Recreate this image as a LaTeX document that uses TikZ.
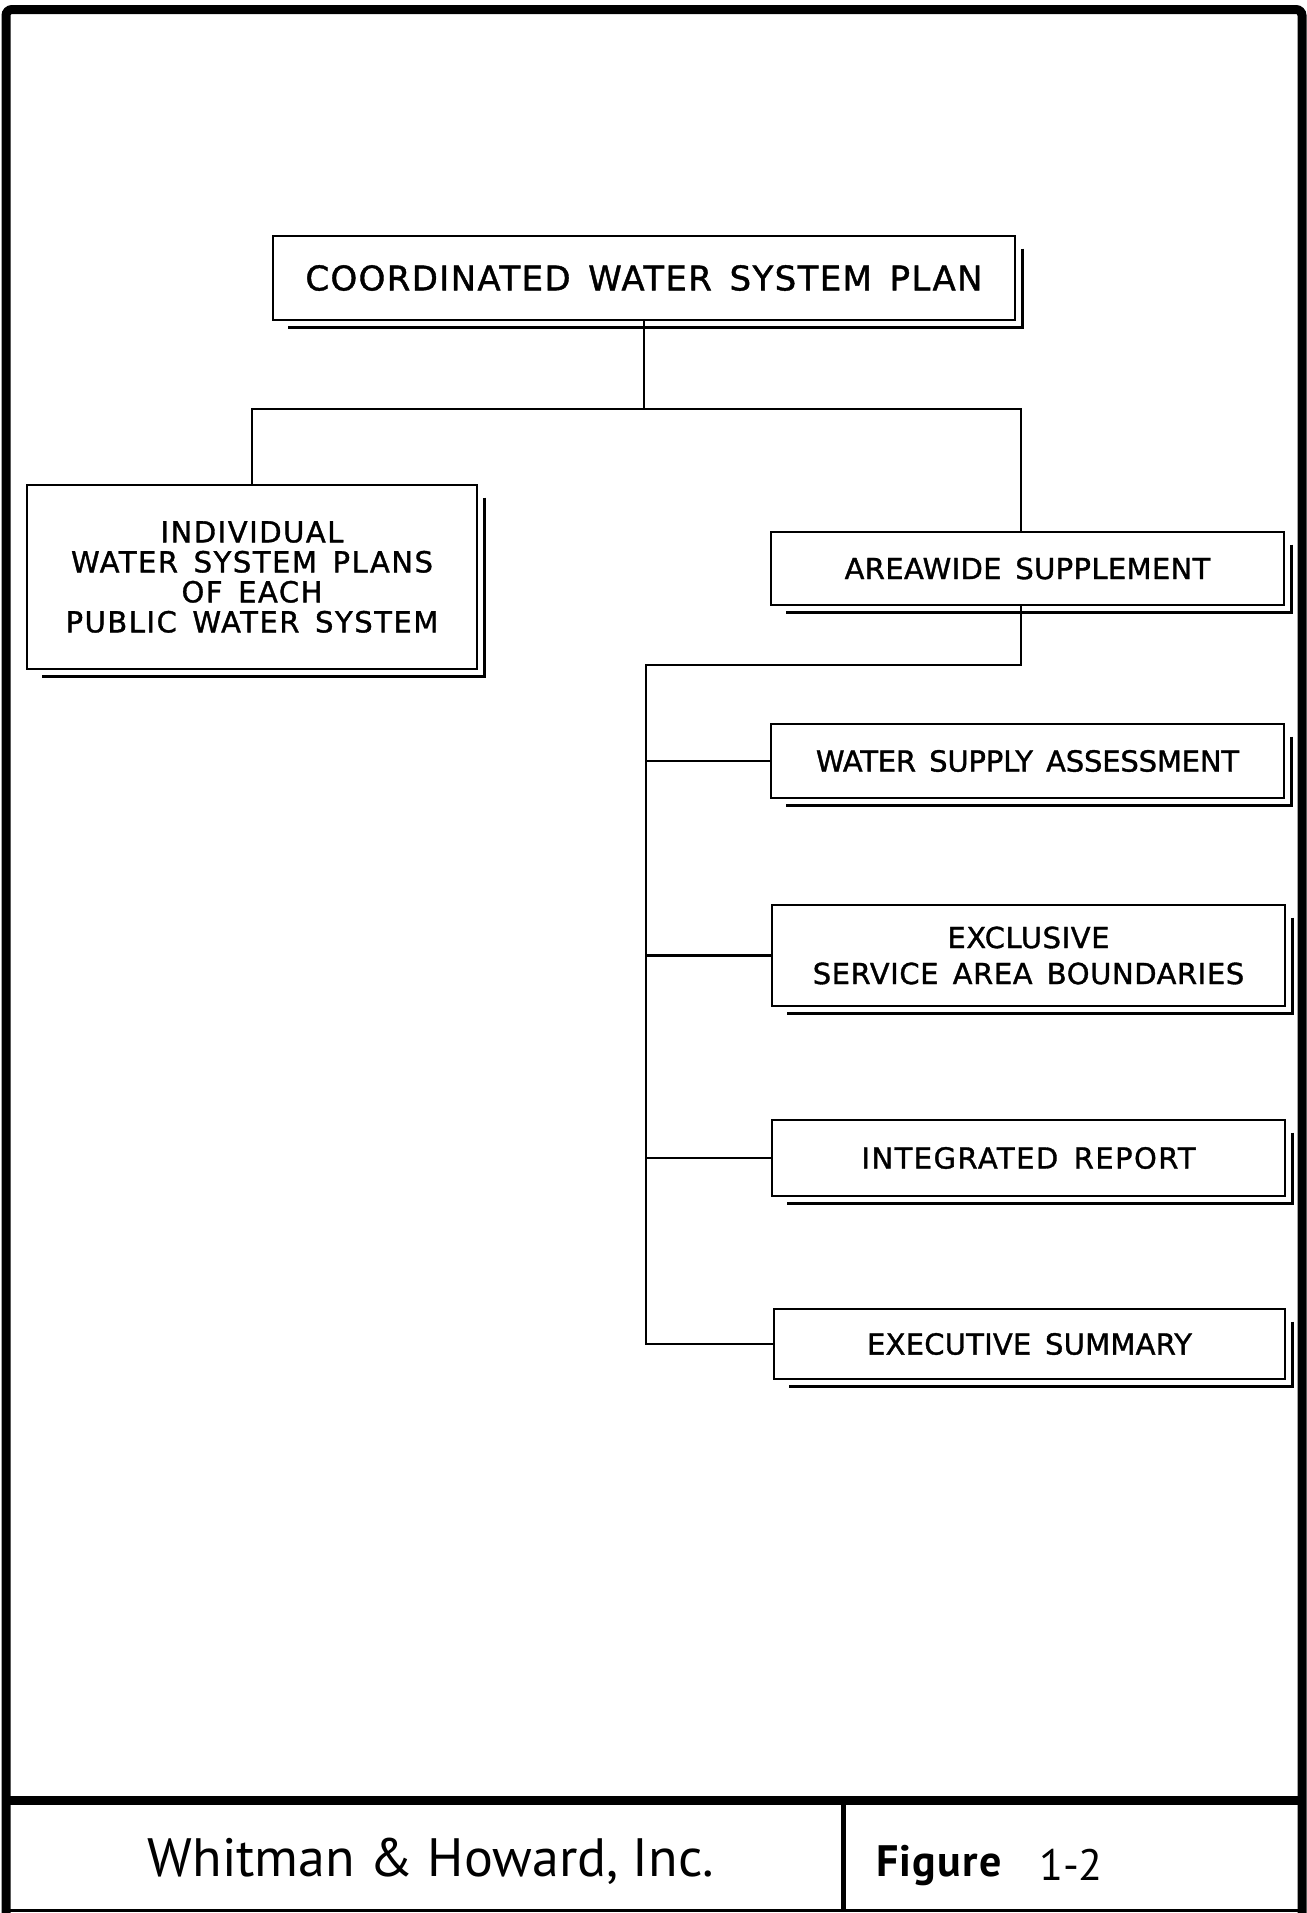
\documentclass[tikz,border=0pt]{standalone}
\usepackage{fontspec}
\setmainfont{DejaVu Sans}
\newfontfamily\lettfont[FakeBold=1.2, WordSpace=1.45]{DejaVu Sans}
\newfontfamily\firmfont{PT Sans}
\newcommand\lsp[1]{\addfontfeature{LetterSpace=#1}}
\begin{document}
\begin{tikzpicture}[x=0.5pt,y=-0.5pt,
  box/.style={draw, line width=1.4pt, inner sep=0pt, align=center},
  bigtext/.style={font=\lettfont\fontsize{17}{19}\selectfont},
  smalltext/.style={font=\lettfont\fontsize{14.5}{15}\selectfont},
  conn/.style={line width=1.3pt},
  shadowline/.style={line width=1.1pt},
  frameline/.style={line width=4.5pt}]
\useasboundingbox (0,0) rectangle (1307,1913);
% frame
\draw[frameline, rounded corners=3pt] (6,1913) -- (6,9.5) -- (1302,9.5) -- (1302,1913);
\draw[line width=1.5pt] (6,1910) -- (1302,1910);
\draw[frameline] (6,1800) -- (1302,1800);
\draw[line width=2.5pt] (843,1800) -- (843,1910);
% boxes
\node[box, bigtext, minimum width=371pt, minimum height=42pt] (cwsp) at (644,278) {\lsp{4}COORDINATED WATER SYSTEM PLAN};
\node[box, smalltext, minimum width=225pt, minimum height=92pt] (iwsp) at (252,577) {\lsp{5.3}INDIVIDUAL\\\lsp{5.3}WATER SYSTEM PLANS\\\lsp{5.3}OF EACH\\\lsp{5.3}PUBLIC WATER SYSTEM};
\node[box, smalltext, minimum width=256.5pt, minimum height=36.5pt] (area) at (1027.5,568.5) {\lsp{1.2}AREAWIDE SUPPLEMENT};
\node[box, smalltext, minimum width=256.5pt, minimum height=37pt] (wsa) at (1027.5,761) {\lsp{-0.6}WATER SUPPLY ASSESSMENT};
\node[box, smalltext, minimum width=256.5pt, minimum height=50.5pt] (esab) at (1028.5,955.5) {\lsp{2}EXCLUSIVE\\[3pt]\lsp{2}SERVICE AREA BOUNDARIES};
\node[box, smalltext, minimum width=256.5pt, minimum height=38pt] (ir) at (1028.5,1158) {\lsp{5}INTEGRATED REPORT};
\node[box, smalltext, minimum width=255.5pt, minimum height=35pt] (es) at (1029.5,1344) {\lsp{0.8}EXECUTIVE SUMMARY};
% shadows
\foreach \n in {cwsp,iwsp,area,wsa,esab,ir,es}
  \draw[shadowline] ([shift={(3pt,-7pt)}]\n.north east) |- ([shift={(8pt,-3pt)}]\n.south west);
% connectors
\coordinate (bl) at (252,409);
\coordinate (br) at (1021,409);
\coordinate (sp) at (646,665);
\draw[conn] (cwsp.south) -- (cwsp.south |- bl);
\draw[conn] (iwsp.north) -- (bl) -- (br) -- (br |- area.north);
\draw[conn] (br |- area.south) |- (sp) -- (sp |- es.west) -- (es.west);
\draw[conn] (sp |- wsa.west) -- (wsa.west);
\draw[conn] (sp |- esab.west) -- (esab.west);
\draw[conn] (sp |- ir.west) -- (ir.west);
% footer
\node[font=\firmfont\fontsize{27}{30}\selectfont] (firm) at (431,1861) {Whitman \& Howard, Inc.};
\node[anchor=west, font=\firmfont\bfseries\fontsize{22}{24}\selectfont] (fig) at (869,1865) {\addfontfeature{LetterSpace=3}Figure};
\node[font=\firmfont\fontsize{22}{24}\selectfont] (num) at (1071,1865) {1-2};
\end{tikzpicture}
\end{document}
